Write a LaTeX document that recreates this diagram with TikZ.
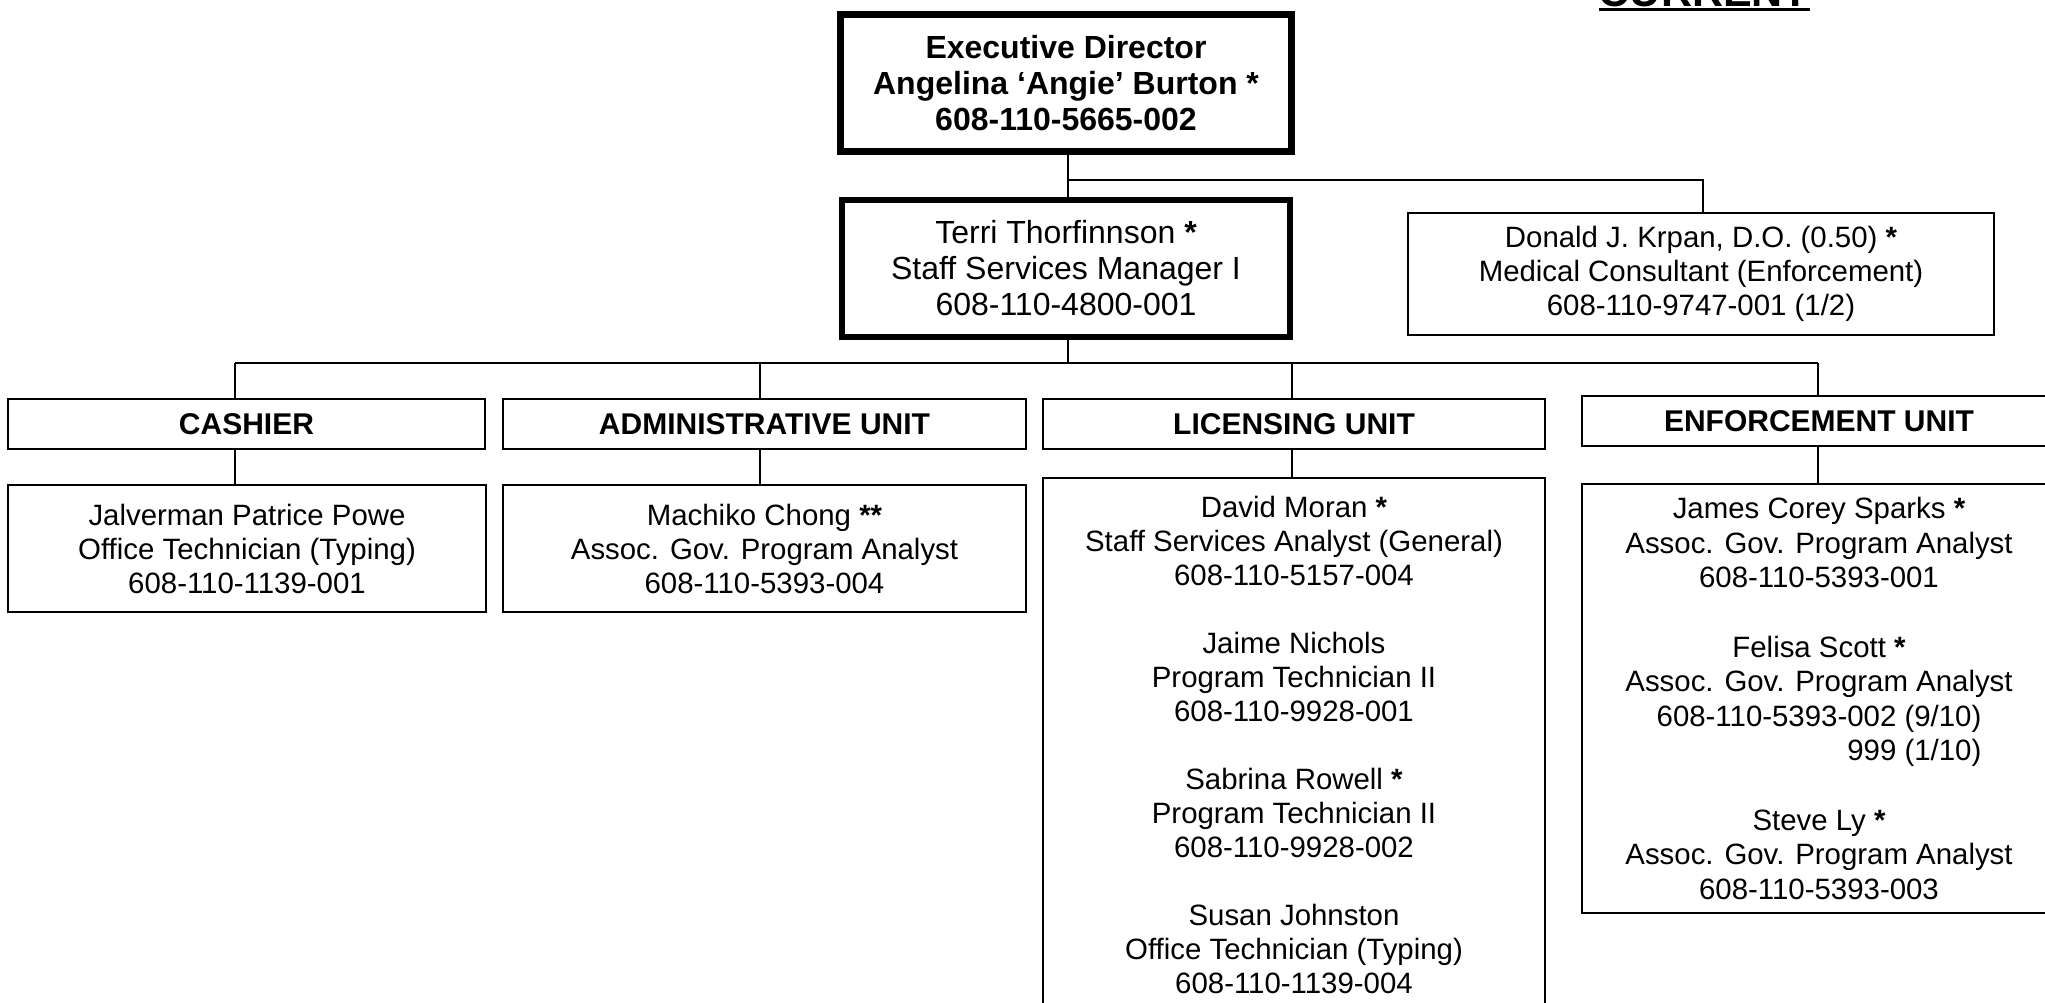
\documentclass[tikz,border=0pt]{standalone}
\usepackage{fontspec}
\setmainfont{Liberation Sans}
\begin{document}
\begin{tikzpicture}[x=0.5pt,y=-0.5pt,
  every node/.style={inner sep=0pt, align=center},
  topbox/.style={draw, font=\fontsize{16}{18}\selectfont},
  infobox/.style={draw, line width=1pt, font=\fontsize{14.7}{17}\selectfont},
  unitbox/.style={draw, line width=1pt, font=\bfseries\fontsize{15}{18}\selectfont},
  link/.style={line width=1pt}]
\fill[white] (0,0) rectangle (2045,1002);
\useasboundingbox (0,0) rectangle (2045,1002);

% heading
\node[font=\bfseries\fontsize{21.5}{24}\selectfont, anchor=base] (title) at (1704,6) {CURRENT};
\draw[line width=1.5pt] ([yshift=-1.75pt]title.base west) -- ([yshift=-1.75pt]title.base east);

% top of the chart
\node[topbox, line width=3.5pt, font=\bfseries\fontsize{16}{18}\selectfont,
      minimum width=225.5pt, minimum height=68.5pt] (exec) at (1066,83)
  {Executive Director\\Angelina ‘Angie’ Burton *\\608-110-5665-002};
\node[topbox, line width=2.6pt, minimum width=224pt, minimum height=68.5pt] (terri) at (1066,268.5)
  {Terri Thorfinnson \textbf{*}\\Staff Services Manager I\\608-110-4800-001};
\node[infobox, minimum width=293pt, minimum height=61pt] (donald) at (1701,274)
  {Donald J. Krpan, D.O. (0.50) \textbf{*}\\Medical Consultant (Enforcement)\\608-110-9747-001 (1/2)};

% units
\node[unitbox, minimum width=238.5pt, minimum height=25pt] (cashu) at (246.5,424) {CASHIER};
\node[unitbox, minimum width=261.5pt, minimum height=25pt] (adminu) at (764.5,424) {ADMINISTRATIVE UNIT};
\node[unitbox, minimum width=251pt, minimum height=25pt] (licu) at (1294,424) {LICENSING UNIT};
\node[unitbox, minimum width=237pt, minimum height=25pt] (enfu) at (1819,421) {ENFORCEMENT UNIT};

% staff
\node[infobox, minimum width=239pt, minimum height=63.5pt] (cashp) at (247,548.5)
  {Jalverman Patrice Powe\\Office Technician (Typing)\\608-110-1139-001};
\node[infobox, minimum width=261.5pt, minimum height=63.5pt] (adminp) at (764.5,548.5)
  {Machiko Chong \textbf{**}\\Assoc. Gov. Program Analyst\\608-110-5393-004};
\node[infobox, minimum width=251pt, minimum height=266.5pt] (licp) at (1294,744.5)
  {David Moran \textbf{*}\\Staff Services Analyst (General)\\608-110-5157-004\\[17pt]
   Jaime Nichols\\Program Technician II\\608-110-9928-001\\[17pt]
   Sabrina Rowell \textbf{*}\\Program Technician II\\608-110-9928-002\\[17pt]
   Susan Johnston\\Office Technician (Typing)\\608-110-1139-004};
\node[infobox, font=\fontsize{14.7}{17.2}\selectfont, minimum width=237pt, minimum height=214.5pt] (enfp) at (1819,698.5)
  {James Corey Sparks \textbf{*}\\Assoc. Gov. Program Analyst\\608-110-5393-001\\[17.6pt]
   Felisa Scott \textbf{*}\\Assoc. Gov. Program Analyst\\608-110-5393-002 (9/10)\\
   \hphantom{608-110-5393-}999 (1/10)\\[17.8pt]
   Steve Ly \textbf{*}\\Assoc. Gov. Program Analyst\\608-110-5393-003};

% junction points
\coordinate (j1) at (1068,180);
\coordinate (dj) at (1703,180);
\coordinate (b0) at (1068,363);
\coordinate (bc) at (235,363);
\coordinate (ba) at (760,363);
\coordinate (bl) at (1292,363);
\coordinate (be) at (1818,363);

% connectors
\draw[link] (exec.south -| j1) -- (terri.north -| j1);
\draw[link] (j1) -- (dj) -- (donald.north -| dj);
\draw[link] (terri.south -| b0) -- (b0);
\draw[link] (bc) -- (be);
\foreach \b/\u/\p in {bc/cashu/cashp, ba/adminu/adminp, bl/licu/licp, be/enfu/enfp} {
  \draw[link] (\b) -- (\b |- \u.north);
  \draw[link] (\b |- \u.south) -- (\b |- \p.north);
}
\end{tikzpicture}
\end{document}
